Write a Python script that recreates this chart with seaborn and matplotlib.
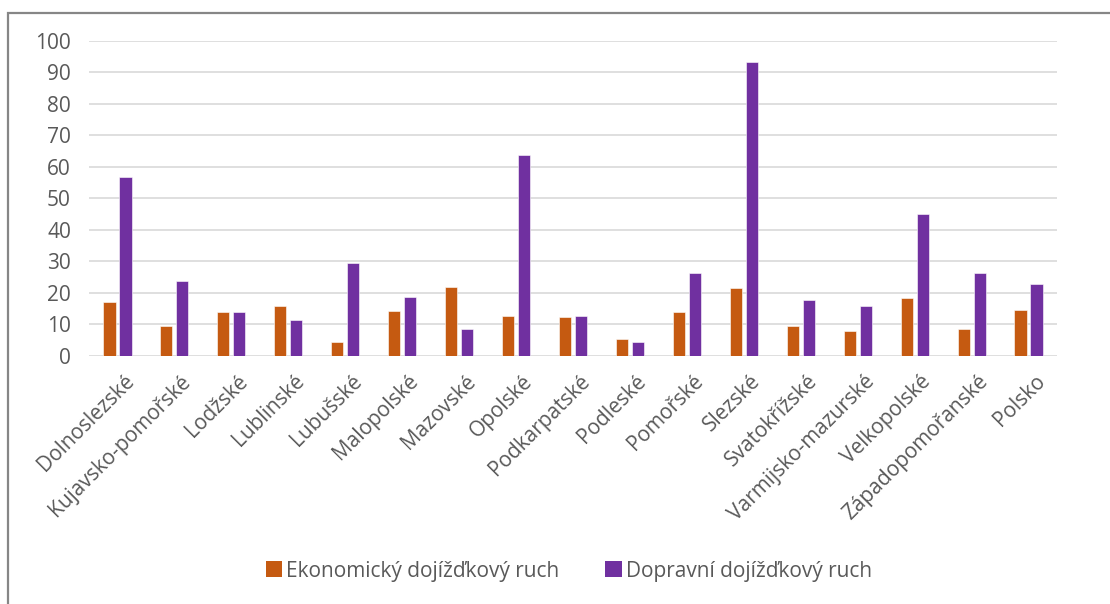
import matplotlib
matplotlib.use("Agg")
import matplotlib.pyplot as plt
from matplotlib.patches import Rectangle, Patch
from matplotlib.transforms import ScaledTranslation
import seaborn as sns
import pandas as pd

regions = [
    "Dolnoslezské", "Kujavsko-pomořské", "Lodžské", "Lublinské", "Lubušské",
    "Malopolské", "Mazovské", "Opolské", "Podkarpatské", "Podleské",
    "Pomořské", "Slezské", "Svatokřížské", "Varmijsko-mazurské",
    "Velkopolské", "Západopomořanské", "Polsko",
]
economic = [17.1, 9.4, 13.8, 15.7, 4.3, 14.0, 21.9, 12.7, 12.2, 5.2,
            13.8, 21.6, 9.5, 7.7, 18.2, 8.4, 14.5]
transport = [56.7, 23.6, 13.8, 11.4, 29.3, 18.5, 8.4, 63.7, 12.5, 4.4,
             26.1, 93.2, 17.6, 15.8, 44.9, 26.1, 22.7]
series_names = ["Ekonomický dojížďkový ruch", "Dopravní dojížďkový ruch"]
colors = ["#C55A11", "#7030A0"]

df = pd.DataFrame({
    "region": regions * 2,
    "value": economic + transport,
    "series": [series_names[0]] * len(regions) + [series_names[1]] * len(regions),
})

sns.set_theme(style="white")
plt.rcParams["font.family"] = ["Open Sans", "DejaVu Sans"]

text_color = "#595959"
fs = 15
fig = plt.figure(figsize=(11.10, 6.04), dpi=100)
ax = fig.add_axes([89 / 1110, 1 - 355.5 / 604, (1057 - 89) / 1110, (355.5 - 41) / 604])

sns.barplot(
    data=df, x="region", y="value", hue="series", order=regions,
    hue_order=series_names, palette=colors, saturation=1, width=0.56, gap=0.24,
    edgecolor="white", linewidth=0.4, ax=ax, legend=False, zorder=3,
)

ax.set_ylim(0, 100)
ax.set_xlim(-0.5, len(regions) - 0.5)
ax.set_yticks(range(0, 101, 10))
ax.yaxis.grid(True, color="#d9d9d9", linewidth=1.2, zorder=0)
ax.set_axisbelow(True)
for side in ["left", "right", "top", "bottom"]:
    ax.spines[side].set_visible(False)
ax.set_xlabel("")
ax.set_ylabel("")
ax.tick_params(axis="y", length=0, pad=13, labelsize=fs, labelcolor=text_color)
ax.tick_params(axis="x", length=0, pad=11, labelsize=fs, labelcolor=text_color)
shift = ScaledTranslation(6 / 100, 0, fig.dpi_scale_trans)
for lbl in ax.get_xticklabels():
    lbl.set_rotation(45)
    lbl.set_ha("right")
    lbl.set_va("top")
    lbl.set_rotation_mode("anchor")
    lbl.set_transform(lbl.get_transform() + shift)

handles = [Patch(facecolor=c, edgecolor="none") for c in colors]
fig.legend(
    handles, series_names, loc="center", bbox_to_anchor=(569 / 1110, 1 - 571 / 604),
    ncol=2, frameon=False, fontsize=fs, labelcolor=text_color,
    handlelength=0.8, handleheight=0.8, handletextpad=0.2, columnspacing=2.2,
)

# outer chart frame
fig.patches.append(Rectangle(
    (7.5 / 1110, -0.05), 1.2, 1 - 12.5 / 604 + 0.05,
    transform=fig.transFigure, fill=False, edgecolor="#868686",
    linewidth=1.6, zorder=10,
))

fig.savefig("out.png", dpi=100)
